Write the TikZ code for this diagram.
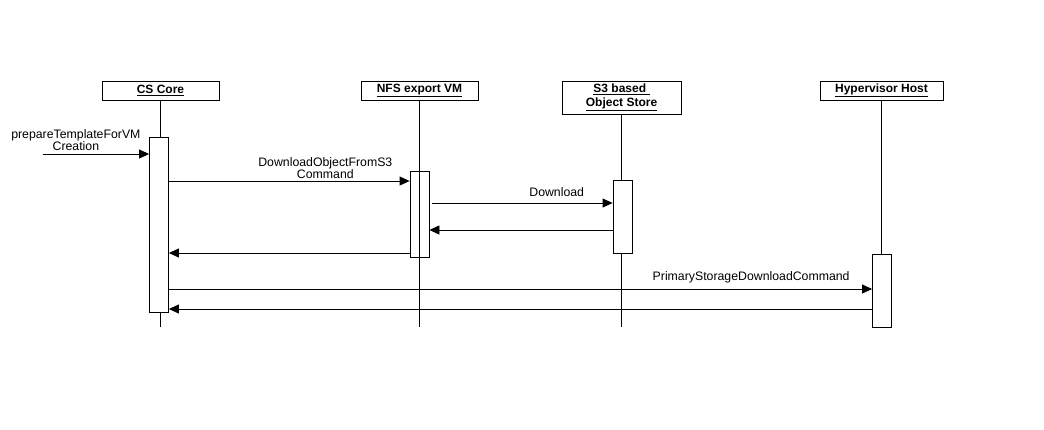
\documentclass[tikz,border=0pt]{standalone}
\usepackage{fontspec}
\setmainfont{Liberation Sans}
\usetikzlibrary{arrows.meta}

\begin{document}
\begin{tikzpicture}[
    x=1pt,y=-1pt,line width=0.8pt,
    actor/.style={draw,fill=white,minimum height=19pt,inner sep=0pt,align=center,font=\fontsize{12}{13.5}\selectfont\bfseries},
    act/.style={draw,fill=white,minimum width=19pt,inner sep=0pt,anchor=north},
    msg/.style={-{Triangle[length=10pt,width=9pt]}},
    lbl/.style={align=center,font=\fontsize{12.3}{12}\selectfont,inner sep=1pt}
  ]
    \useasboundingbox (0,0) rectangle (1044,429);
    % participants
    \node[actor,minimum width=117pt] (core) at (160.5,90.5) {\underline{CS Core}};
    \node[actor,minimum width=117pt] (nfs) at (419.5,90.5) {\underline{NFS export VM}};
    \node[actor,minimum width=119pt,minimum height=33pt] (s3) at (621.5,97.5) {\underline{S3 based\ }\\\underline{Object Store}};
    \node[actor,minimum width=123pt] (hyp) at (881.5,90.5) {\underline{Hypervisor Host}};
    % rows
    \coordinate (bottom) at (0,327);
    \coordinate (caller) at (43,154);
    \coordinate (m1) at (0,181);
    \coordinate (m2) at (0,203);
    \coordinate (m3) at (0,230);
    \coordinate (m4) at (0,253);
    \coordinate (m5) at (0,289);
    \coordinate (m6) at (0,309);
    % lifelines
    \draw (core.south) -- (core.south |- bottom);
    \draw (s3.south) -- (s3.south |- bottom);
    \draw (hyp.south) -- (hyp.south |- bottom);
    % activations
    \node[act,minimum height=175pt] (coreAct) at (159,137) {};
    \node[act,minimum height=86pt] (nfsAct) at (419.5,171) {};
    \node[act,minimum height=73pt] (s3Act) at (622.5,180) {};
    \node[act,minimum height=73pt] (hypAct) at (882,254) {};
    \draw (nfs.south) -- (nfs.south |- bottom);
    % messages
    \draw[msg] (caller) -- node[lbl,pos=0.31,above=2pt] {prepareTemplateForVM\\Creation} (coreAct.west |- caller);
    \draw[msg] (coreAct.east |- m1) -- node[lbl,pos=0.65,above=1pt] {DownloadObjectFromS3\\Command} (nfsAct.west |- m1);
    \draw[msg] ([xshift=3pt]nfsAct.east |- m2) -- node[lbl,pos=0.69,above=5pt] {Download} (s3Act.west |- m2);
    \draw[msg] (s3Act.west |- m3) -- (nfsAct.east |- m3);
    \draw[msg] (nfsAct.west |- m4) -- (coreAct.east |- m4);
    \draw[msg] (coreAct.east |- m5) -- node[lbl,pos=0.828,above=5pt] {PrimaryStorageDownloadCommand} (hypAct.west |- m5);
    \draw[msg] (hypAct.west |- m6) -- (coreAct.east |- m6);
  \end{tikzpicture}
\end{document}
